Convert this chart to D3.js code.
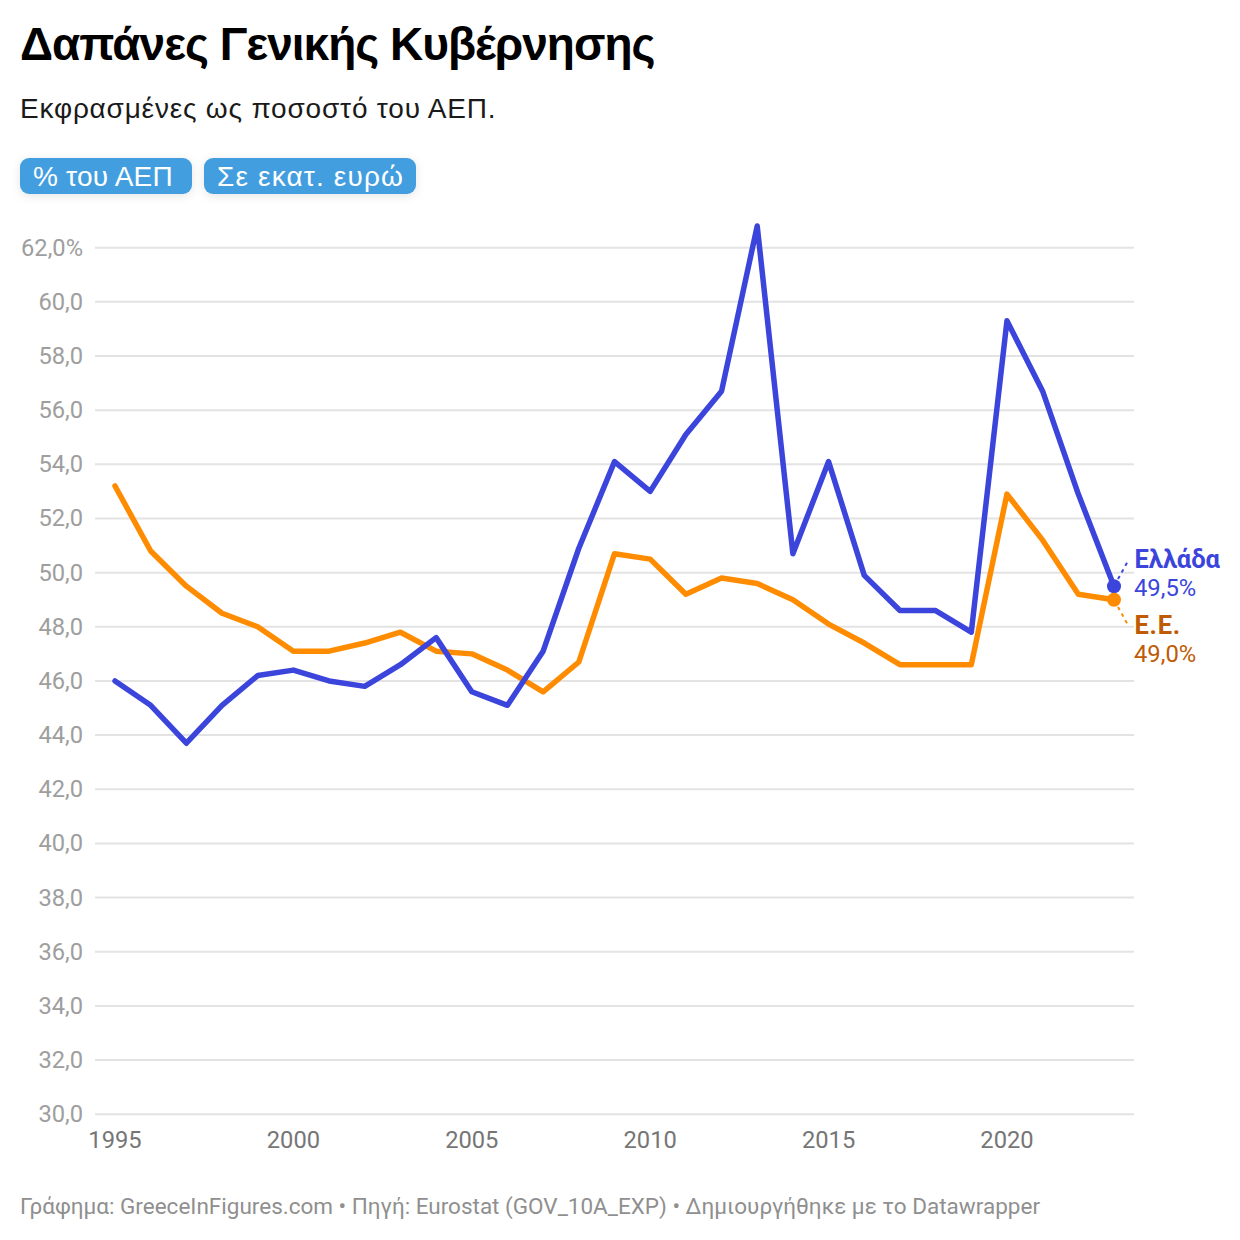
<!DOCTYPE html>
<html>
<head>
<meta charset="utf-8">
<script src="https://cdn.jsdelivr.net/npm/d3@7"></script>
<style>
  html, body { margin: 0; padding: 0; background: #fff; }
  text { font-family: Roboto, sans-serif; }
  .head { font-family: "Liberation Sans", sans-serif; }
</style>
</head>
<body>
<svg id="chart" width="1240" height="1240"></svg>
<script>
var years = d3.range(1995, 2024);
var greece = [46.0, 45.1, 43.7, 45.1, 46.2, 46.4, 46.0, 45.8, 46.6, 47.6, 45.6, 45.1, 47.1, 50.9, 54.1, 53.0, 55.1, 56.7, 62.8, 50.7, 54.1, 49.9, 48.6, 48.6, 47.8, 59.3, 56.7, 52.9, 49.5];
var eu = [53.2, 50.8, 49.5, 48.5, 48.0, 47.1, 47.1, 47.4, 47.8, 47.1, 47.0, 46.4, 45.6, 46.7, 50.7, 50.5, 49.2, 49.8, 49.6, 49.0, 48.1, 47.4, 46.6, 46.6, 46.6, 52.9, 51.2, 49.2, 49.0];
var yTicks = d3.range(30, 64, 2);
var xTicks = [1995, 2000, 2005, 2010, 2015, 2020];
var buttons = ["% του ΑΕΠ", "Σε εκατ. ευρώ"];

var svg = d3.select("#chart");
var x = d3.scaleLinear().domain([1995, 2023]).range([115, 1114]);
var y = d3.scaleLinear().domain([30, 62]).range([1114.2, 247.7]);
var fmt = function (v) { return v.toFixed(1).replace(".", ","); };

// Title block
svg.append("text").attr("class", "head").attr("x", 20).attr("y", 60)
  .attr("font-size", 46).attr("font-weight", 700).attr("letter-spacing", -1).attr("fill", "#000")
  .text("Δαπάνες Γενικής Κυβέρνησης");
svg.append("text").attr("class", "head").attr("x", 20).attr("y", 118)
  .attr("font-size", 28).attr("letter-spacing", 0.8).attr("fill", "#1a1a1a")
  .text("Εκφρασμένες ως ποσοστό του ΑΕΠ.");

// Buttons
var defs = svg.append("defs");
var shadow = defs.append("filter").attr("id", "btnShadow")
  .attr("x", "-15%").attr("y", "-40%").attr("width", "130%").attr("height", "190%");
shadow.append("feDropShadow").attr("dx", 0).attr("dy", 2).attr("stdDeviation", 5)
  .attr("flood-color", "#000").attr("flood-opacity", 0.1);

var btnX = [20, 204], btnW = [172, 212], btnSpacing = [0.2, 1.15];
buttons.forEach(function (label, i) {
  svg.append("rect").attr("x", btnX[i]).attr("y", 158).attr("width", btnW[i]).attr("height", 36)
    .attr("rx", 9).attr("fill", "#429ede").attr("filter", "url(#btnShadow)");
  svg.append("text").attr("class", "head").attr("x", btnX[i] + 13).attr("y", 186)
    .attr("font-size", 28).attr("letter-spacing", btnSpacing[i]).attr("fill", "#fff").text(label);
});

// Grid and axes
var yAxis = svg.append("g");
yTicks.forEach(function (t) {
  yAxis.append("line").attr("x1", 95).attr("x2", 1134)
    .attr("y1", y(t)).attr("y2", y(t))
    .attr("stroke", "#e3e3e3").attr("stroke-width", 2);
  yAxis.append("text").attr("x", 83).attr("y", y(t) + 8)
    .attr("text-anchor", "end").attr("font-size", 23.7).attr("fill", "#9e9e9e")
    .text(fmt(t) + (t === 62 ? "%" : ""));
});
svg.append("g").selectAll("text").data(xTicks).join("text")
  .attr("x", function (d) { return x(d); }).attr("y", 1148)
  .attr("text-anchor", "middle").attr("font-size", 23.7).attr("fill", "#767676")
  .text(function (d) { return d; });

// Lines
var line = d3.line().x(function (d, i) { return x(years[i]); }).y(function (d) { return y(d); });
var series = [
  { name: "Ελλάδα", values: greece, color: "#3b45dc", text: "#3b45dc", ly: 568, vy: 596, tick: [1118, 579, 1128, 561] },
  { name: "Ε.Ε.", values: eu, color: "#ff8c00", text: "#bf5b04", ly: 634, vy: 662, tick: [1118, 607, 1128, 625] }
];
series.slice().reverse().forEach(function (s) {
  svg.append("path").attr("d", line(s.values)).attr("fill", "none")
    .attr("stroke", s.color).attr("stroke-width", 5.5)
    .attr("stroke-linejoin", "round").attr("stroke-linecap", "round");
});
series.forEach(function (s) {
  var last = s.values[s.values.length - 1];
  svg.append("line").attr("x1", s.tick[0]).attr("y1", s.tick[1]).attr("x2", s.tick[2]).attr("y2", s.tick[3])
    .attr("stroke", s.color).attr("stroke-width", 2).attr("stroke-dasharray", "3.5,4");
  svg.append("circle").attr("cx", x(2023)).attr("cy", y(last)).attr("r", 7).attr("fill", s.color);
  svg.append("text").attr("x", 1134.5).attr("y", s.ly).attr("font-size", 25.5).attr("font-weight", 700)
    .attr("letter-spacing", s.name === "Ε.Ε." ? 0.7 : 0).attr("fill", s.text).text(s.name);
  svg.append("text").attr("x", 1134).attr("y", s.vy).attr("font-size", 23.8)
    .attr("fill", s.text).text(fmt(last) + "%");
});

// Footer
svg.append("text").attr("x", 20).attr("y", 1214).attr("font-size", 22.5).attr("fill", "#8f8f8f")
  .text("Γράφημα: GreeceInFigures.com • Πηγή: Eurostat (GOV_10A_EXP) • Δημιουργήθηκε με το Datawrapper");
</script>
</body>
</html>
